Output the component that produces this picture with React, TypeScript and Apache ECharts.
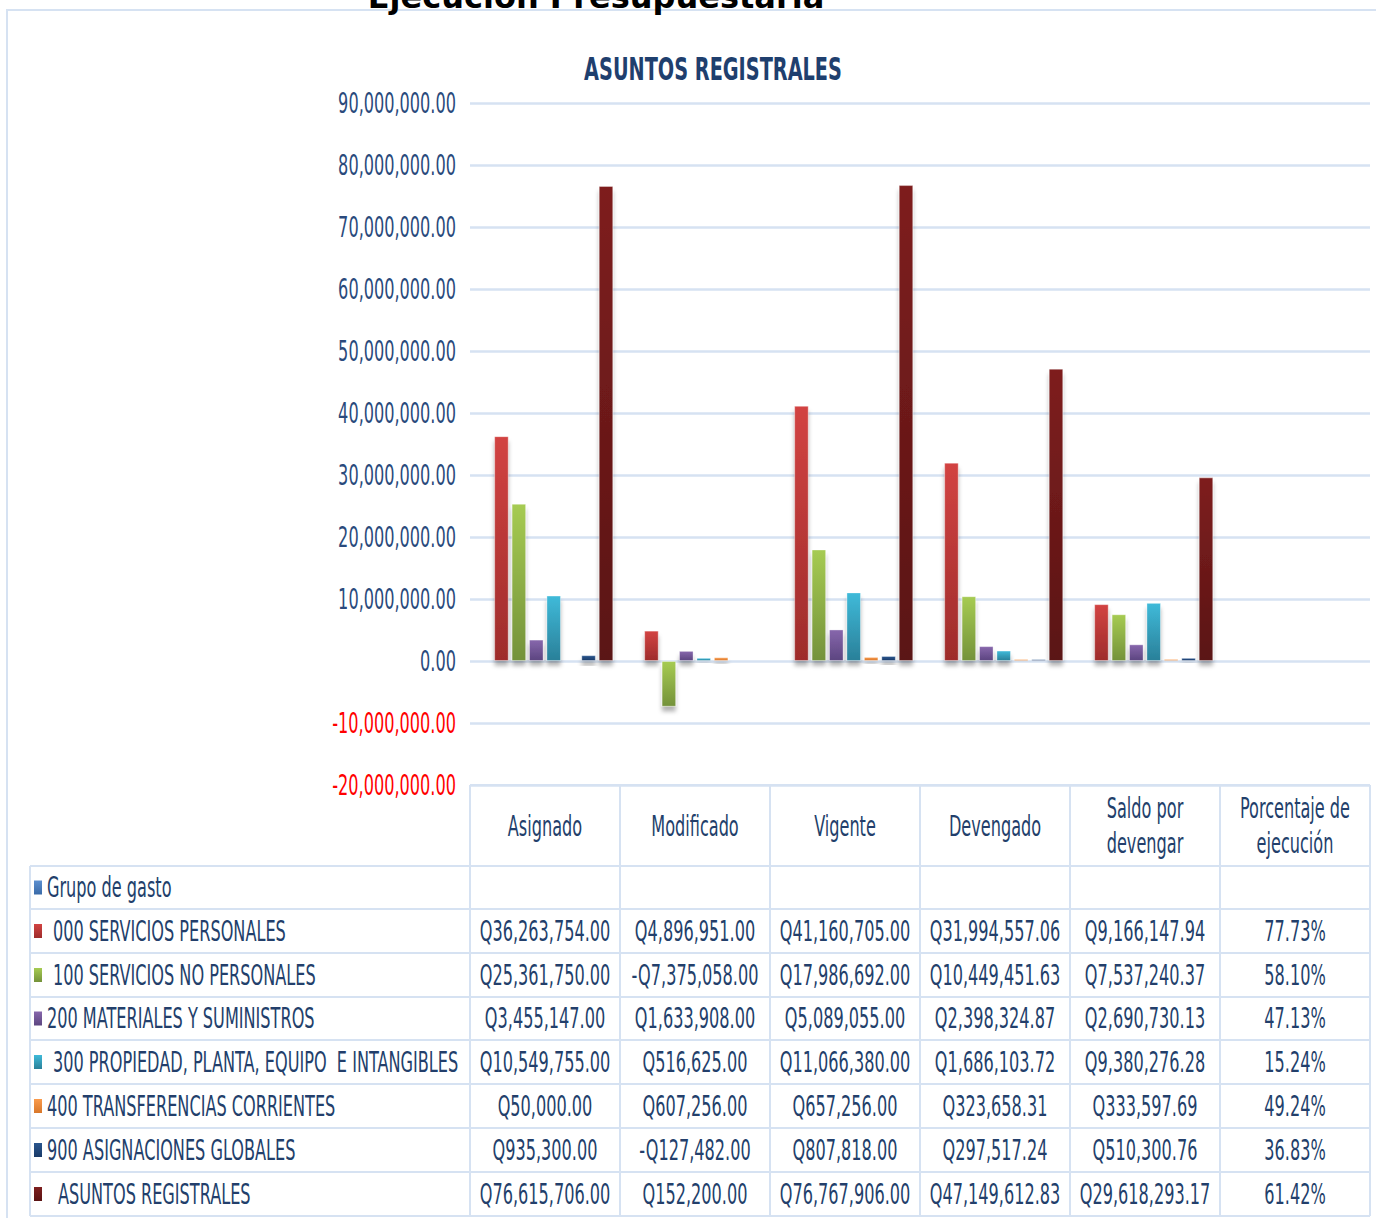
import React, { useEffect, useRef } from "react";
import * as echarts from "echarts";

const categories = ["Asignado", "Modificado", "Vigente", "Devengado", "Saldo por devengar", "Porcentaje de ejecución"];
const headerLines = [["Asignado"], ["Modificado"], ["Vigente"], ["Devengado"], ["Saldo por", "devengar"], ["Porcentaje de", "ejecución"]];

const seriesNames = [
  "Grupo de gasto",
  "000 SERVICIOS PERSONALES",
  "100 SERVICIOS NO PERSONALES",
  "200 MATERIALES Y SUMINISTROS",
  "300 PROPIEDAD, PLANTA, EQUIPO  E INTANGIBLES",
  "400 TRANSFERENCIAS CORRIENTES",
  "900 ASIGNACIONES GLOBALES",
  "ASUNTOS REGISTRALES",
];

const grupoDeGasto: (number | null)[] = [null, null, null, null, null, null];
const serviciosPersonales = [36263754.0, 4896951.0, 41160705.0, 31994557.06, 9166147.94, 0.7773];
const serviciosNoPersonales = [25361750.0, -7375058.0, 17986692.0, 10449451.63, 7537240.37, 0.581];
const materialesSuministros = [3455147.0, 1633908.0, 5089055.0, 2398324.87, 2690730.13, 0.4713];
const propiedadPlanta = [10549755.0, 516625.0, 11066380.0, 1686103.72, 9380276.28, 0.1524];
const transferencias = [50000.0, 607256.0, 657256.0, 323658.31, 333597.69, 0.4924];
const asignacionesGlobales = [935300.0, -127482.0, 807818.0, 297517.24, 510300.76, 0.3683];
const asuntosRegistrales = [76615706.0, 152200.0, 76767906.0, 47149612.83, 29618293.17, 0.6142];

const seriesData = [
  grupoDeGasto,
  serviciosPersonales,
  serviciosNoPersonales,
  materialesSuministros,
  propiedadPlanta,
  transferencias,
  asignacionesGlobales,
  asuntosRegistrales,
];

const yTickValues = [90000000, 80000000, 70000000, 60000000, 50000000, 40000000, 30000000, 20000000, 10000000, 0, -10000000, -20000000];
const yTickLabels = [
  "90,000,000.00",
  "80,000,000.00",
  "70,000,000.00",
  "60,000,000.00",
  "50,000,000.00",
  "40,000,000.00",
  "30,000,000.00",
  "20,000,000.00",
  "10,000,000.00",
  "0.00",
  "-10,000,000.00",
  "-20,000,000.00",
];
const yMin = -20000000;
const yMax = 90000000;
const yInterval = 10000000;

const seriesColors = [
  ["#5B8FD0", "#3A6AA8"],
  ["#D24342", "#9E2C2B"],
  ["#A6CB52", "#74923A"],
  ["#8767AC", "#5C4580"],
  ["#3FBAD9", "#2A8099"],
  ["#FA9B4C", "#D8772A"],
  ["#2A568E", "#1A3A68"],
  ["#7E1F1F", "#5A1313"],
];

const NAVY = "#233F6B";
const GRIDC = "#D6E2F2";
const FONT = "'DejaVu Sans Condensed', 'Liberation Sans Narrow', sans-serif";

function money(v: number) {
  const s = Math.abs(v).toLocaleString("en-US", { minimumFractionDigits: 2, maximumFractionDigits: 2 });
  return (v < 0 ? "-Q" : "Q") + s;
}
function cellText(v: number | null, ci: number) {
  if (v === null) return "";
  if (ci === 5) return (v * 100).toFixed(2) + "%";
  return money(v);
}

export default function App() {
  const ref = useRef<HTMLDivElement>(null);
  useEffect(() => {
    if (!ref.current) return;
    document.body.style.margin = "0";
    const chart = echarts.init(ref.current, null, { renderer: "svg" });

    const option: any = {
      animation: false,
      backgroundColor: "#fff",
      grid: { left: 470, right: 6, top: 103, bottom: 433, containLabel: false },
      xAxis: {
        type: "category",
        data: categories,
        axisLine: { show: false, onZero: false },
        axisTick: { show: false },
        axisLabel: { show: false },
        splitLine: { show: false },
      },
      yAxis: {
        type: "value",
        min: yMin,
        max: yMax,
        interval: yInterval,
        axisLine: { show: false },
        axisTick: { show: false },
        splitLine: { lineStyle: { color: GRIDC, width: 2.5 } },
        axisLabel: { show: false },
      },
      series: seriesData.map((d, i) => ({
        name: seriesNames[i],
        type: "bar",
        data: d,
        barCategoryGap: "9%",
        barGap: "20%",
        itemStyle: {
          color: new echarts.graphic.LinearGradient(0, 0, 0, 1, [
            { offset: 0, color: seriesColors[i][0] },
            { offset: 1, color: seriesColors[i][1] },
          ]),
          borderColor: "rgba(255,255,255,0.35)",
          borderWidth: 1,
          shadowColor: "rgba(0,0,0,0.3)",
          shadowBlur: 4,
          shadowOffsetY: 5,
        },
      })),
    };
    chart.setOption(option);

    const colX = [470, 620, 770, 920, 1070, 1220, 1370];
    const rowY = [866, 909, 953, 997, 1040, 1084, 1128, 1172, 1216];
    const tableLeft = 30;
    const S = 0.64;
    const txtFont = (size: number, bold = false) => `${bold ? "bold " : ""}${size}px ${FONT}`;

    const graphics: any[] = [];
    graphics.push({
      type: "rect",
      shape: { x: 7, y: 10, width: 1380, height: 1230 },
      style: { fill: "none", stroke: GRIDC, lineWidth: 2 },
      silent: true,
    });
    graphics.push({
      type: "text",
      x: 596,
      y: 13,
      style: {
        text: "Ejecución Presupuestaria",
        font: "bold 32px 'DejaVu Sans', Verdana, sans-serif",
        fill: "#000",
        align: "center",
        verticalAlign: "bottom",
      },
    });
    graphics.push({
      type: "text",
      x: 713,
      y: 69,
      scaleX: 0.67,
      style: {
        text: "ASUNTOS REGISTRALES",
        font: txtFont(32, true),
        fill: "#1F3F6E",
        align: "center",
        verticalAlign: "middle",
      },
    });

    // y-axis tick labels placed through the axis scale
    yTickValues.forEach((v, i) => {
      const py = chart.convertToPixel({ yAxisIndex: 0 }, v) as number;
      graphics.push({
        type: "text",
        x: 456,
        y: py,
        scaleX: S,
        style: {
          text: yTickLabels[i],
          font: txtFont(28),
          fill: v < 0 ? "#FF0000" : "#2A4A7C",
          align: "right",
          verticalAlign: "middle",
        },
      });
    });

    graphics.push({ type: "line", shape: { x1: colX[0], y1: 785, x2: colX[6], y2: 785 }, style: { stroke: GRIDC, lineWidth: 2 } });
    rowY.forEach((y) =>
      graphics.push({ type: "line", shape: { x1: tableLeft, y1: y, x2: colX[6], y2: y }, style: { stroke: GRIDC, lineWidth: 2 } })
    );
    colX.forEach((x) =>
      graphics.push({ type: "line", shape: { x1: x, y1: 785, x2: x, y2: rowY[rowY.length - 1] }, style: { stroke: GRIDC, lineWidth: 2 } })
    );
    graphics.push({ type: "line", shape: { x1: tableLeft, y1: rowY[0], x2: tableLeft, y2: rowY[rowY.length - 1] }, style: { stroke: GRIDC, lineWidth: 2 } });

    headerLines.forEach((lines, ci) => {
      const cx = (colX[ci] + colX[ci + 1]) / 2;
      const cy = 826;
      const lh = 35;
      lines.forEach((ln, li) => {
        graphics.push({
          type: "text",
          x: cx,
          y: cy + (li - (lines.length - 1) / 2) * lh,
          scaleX: S,
          style: { text: ln, font: txtFont(28), fill: NAVY, align: "center", verticalAlign: "middle" },
        });
      });
    });

    const indents = [0, 6, 6, 0, 6, 0, 0, 11];
    seriesNames.forEach((name, ri) => {
      const cy = (rowY[ri] + rowY[ri + 1]) / 2;
      const [c1, c2] = seriesColors[ri];
      graphics.push({
        type: "rect",
        shape: { x: 34, y: cy - 7, width: 8, height: 14 },
        style: {
          fill: new echarts.graphic.LinearGradient(0, 0, 0, 1, [
            { offset: 0, color: c1 },
            { offset: 1, color: c2 },
          ]),
        },
      });
      graphics.push({
        type: "text",
        x: 47 + indents[ri],
        y: cy,
        scaleX: S,
        style: { text: name, font: txtFont(28), fill: NAVY, align: "left", verticalAlign: "middle" },
      });
      seriesData[ri].forEach((v, ci) => {
        const t = cellText(v as number | null, ci);
        if (!t) return;
        graphics.push({
          type: "text",
          x: (colX[ci] + colX[ci + 1]) / 2,
          y: cy,
          scaleX: S,
          style: { text: t, font: txtFont(28), fill: NAVY, align: "center", verticalAlign: "middle" },
        });
      });
    });

    chart.setOption({ graphic: graphics });
    return () => chart.dispose();
  }, []);
  return <div ref={ref} style={{ position: "absolute", left: 0, top: 0, width: 1376, height: 1218 }} />;
}
